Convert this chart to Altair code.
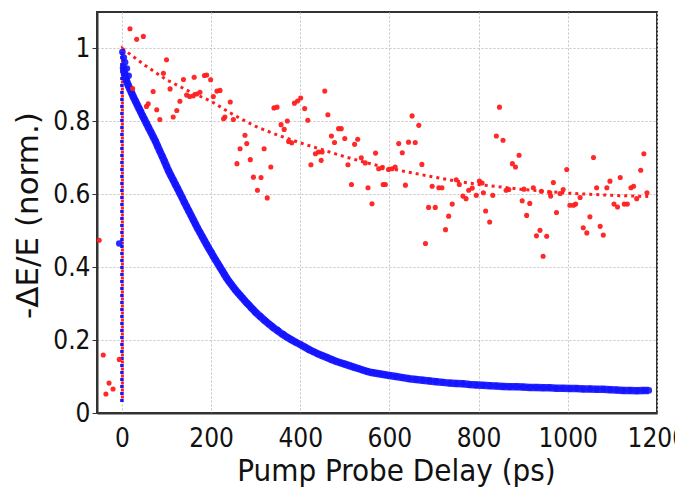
import altair as alt
import pandas as pd

# ---- red data (noisy) ----
red_t = [-51, -42, -36, -29, -20, -6,
         18, 24, 33, 48, 55, 59, 70, 78, 85, 93, 100, 108, 115, 123, 130, 138, 145, 152, 160, 162,
         168, 175, 185, 190, 199, 205, 213, 220, 228, 231, 243, 250, 258, 265, 276, 280, 288, 295,
         304, 312, 319, 326, 334, 341, 348, 357, 364, 371, 374, 381, 387, 394, 401, 410, 417, 424,
         434, 441, 447, 449, 455, 462, 470, 477, 486, 492, 500, 507, 515, 522, 529, 537, 546, 552,
         561, 569, 576, 584, 586, 591, 598, 606, 613, 621, 629, 636, 643, 651, 658, 666, 673, 681,
         688, 696, 703, 711, 718, 726, 733, 741, 750, 757, 765, 772, 778, 786, 795, 802, 808, 811,
         816, 825, 832, 840, 847, 855, 862, 868, 876, 883, 891, 898, 902, 908, 915, 923, 930, 938,
         941, 945, 953, 960, 962, 968, 975, 983, 990, 998, 1005, 1013, 1018, 1028, 1035, 1043, 1050,
         1058, 1065, 1073, 1080, 1088, 1095, 1104, 1112, 1118, 1127, 1134, 1142, 1148, 1155, 1164,
         1171, 1178]
red_y = [0.474, 0.159, 0.052, 0.082, 0.066, 0.147,
         1.054, 0.890, 1.025, 1.033, 0.841, 0.848, 0.882, 0.832, 0.805, 0.932, 0.969, 0.889, 0.812,
         0.830, 0.855, 0.915, 0.872, 0.868, 0.870, 0.921,
         0.875, 0.880, 0.926, 0.927, 0.914, 0.868, 0.883, 0.885, 0.807, 0.812, 0.853, 0.805, 0.684,
         0.725, 0.762, 0.739, 0.695, 0.647,
         0.611, 0.646, 0.725, 0.590, 0.675, 0.837, 0.839, 0.791, 0.778, 0.801, 0.745, 0.741, 0.850,
         0.856, 0.864, 0.835, 0.803, 0.681,
         0.711, 0.716, 0.693, 0.716, 0.883, 0.818, 0.760, 0.742, 0.780, 0.780, 0.753, 0.681, 0.627,
         0.737, 0.751, 0.700, 0.686, 0.618,
         0.574, 0.713, 0.670, 0.673, 0.627, 0.627, 0.668, 0.670, 0.675, 0.739, 0.714, 0.625, 0.743,
         0.815, 0.742, 0.789, 0.682, 0.465,
         0.564, 0.622, 0.564, 0.618, 0.618, 0.503, 0.540, 0.573, 0.640, 0.627, 0.595, 0.588, 0.611,
         0.617, 0.597, 0.636, 0.631, 0.604,
         0.554, 0.524, 0.597, 0.760, 0.839, 0.748, 0.611, 0.613, 0.684, 0.675, 0.707, 0.582, 0.614,
         0.542, 0.575, 0.618, 0.486, 0.501,
         0.608, 0.430, 0.485, 0.604, 0.595, 0.632, 0.550, 0.602, 0.613, 0.668, 0.570, 0.570, 0.573,
         0.591, 0.508, 0.494, 0.538,
         0.701, 0.618, 0.512, 0.488, 0.618, 0.636, 0.573, 0.565, 0.646, 0.573, 0.573, 0.618, 0.622,
         0.588, 0.666,
         0.711, 0.604]

# ---- red fit (dotted) ----
red_fit_t = [1, 1, 50, 100, 150, 200, 250, 300, 350, 400, 450, 500, 550, 600, 650, 700, 750, 800,
             850, 900, 950, 1000, 1050, 1100, 1150, 1185]
red_fit_y = [0.03, 1.0, 0.955, 0.914, 0.883, 0.855, 0.818, 0.786, 0.762, 0.741, 0.722, 0.703, 0.686,
             0.671, 0.659, 0.647, 0.636, 0.627, 0.620, 0.613, 0.608, 0.603, 0.600, 0.597, 0.595, 0.594]

# ---- blue data (dense) ----
blue_t = [-6, 1, 4, 7, 11, 15,
          3, 6, 10, 14, 18, 22, 26, 30, 34, 38, 42, 46, 50, 55, 60, 65, 70, 75, 80, 85, 90, 95, 100,
          105, 110, 115, 120, 125, 130, 135, 140, 145, 150, 155, 160, 165, 170, 175, 180, 185, 190,
          195, 200, 205, 210, 215, 220, 225, 230, 235, 240, 245, 250, 255, 260, 265, 270, 275, 280,
          285, 290, 295, 300, 310, 320, 330, 340, 350, 360, 370, 380, 390, 400, 410, 420, 430, 440,
          450, 460, 470, 480, 490, 500, 510, 520, 530, 540, 550, 560, 570, 580, 590, 600, 615, 630,
          645, 660, 675, 690, 705, 720, 735, 750, 765, 780, 795, 810, 825, 840, 855, 870, 885, 900,
          915, 930, 945, 960, 975, 990, 1005, 1020, 1035, 1050, 1065, 1080, 1095, 1110, 1125, 1140,
          1155, 1170, 1182]
blue_y = [0.465, 0.990, 0.975, 0.962, 0.945, 0.925,
          0.950, 0.930, 0.912, 0.899, 0.888, 0.877, 0.866, 0.856, 0.846, 0.836, 0.826, 0.816, 0.806,
          0.794, 0.782, 0.770, 0.758, 0.746, 0.732, 0.718, 0.705, 0.691, 0.677,
          0.663, 0.651, 0.639, 0.627, 0.615, 0.603, 0.591, 0.578, 0.566, 0.554, 0.542, 0.530, 0.518,
          0.506, 0.495, 0.484, 0.473, 0.462,
          0.451, 0.441, 0.430, 0.420, 0.410, 0.400, 0.390, 0.380, 0.370, 0.361, 0.353, 0.345, 0.337,
          0.330, 0.323, 0.316, 0.309, 0.302,
          0.296, 0.289, 0.283, 0.276, 0.265, 0.254, 0.244, 0.234, 0.225, 0.216, 0.208, 0.201, 0.194,
          0.188, 0.181, 0.174, 0.168, 0.162,
          0.157, 0.152, 0.147, 0.142, 0.138, 0.134, 0.130, 0.126, 0.122, 0.118, 0.114, 0.111, 0.109,
          0.107, 0.105, 0.103, 0.100, 0.097,
          0.094, 0.092, 0.090, 0.088, 0.086, 0.084, 0.082, 0.081, 0.080, 0.078, 0.077, 0.076, 0.075,
          0.074, 0.073, 0.072, 0.072, 0.071,
          0.070, 0.070, 0.069, 0.069, 0.068, 0.068, 0.067, 0.067, 0.066, 0.066, 0.065, 0.065, 0.064,
          0.063, 0.062, 0.062,
          0.061, 0.062, 0.062]

# ---- blue fit (dotted) ----
blue_fit_t = [0, 0, 10, 50, 100, 150, 200, 250, 300, 400, 500, 600, 800, 1000, 1182]
blue_fit_y = [0.03, 0.99, 0.912, 0.806, 0.677, 0.554, 0.441, 0.345, 0.276, 0.188, 0.134, 0.103, 0.077,
              0.067, 0.062]

x_ticks = [0, 200, 400, 600, 800, 1000, 1200]
y_ticks = [0, 0.2, 0.4, 0.6, 0.8, 1.0]

RED = "#ff1e1e"
BLUE = "#1414ff"

red_df = pd.DataFrame({"t": red_t, "y": red_y})
blue_df = pd.DataFrame({"t": blue_t, "y": blue_y})
band_df = pd.DataFrame({"t": blue_t[6:], "y": blue_y[6:]})
rfit_df = pd.DataFrame({"t": red_fit_t, "y": red_fit_y, "i": list(range(len(red_fit_t)))})
bfit_df = pd.DataFrame({"t": blue_fit_t, "y": blue_fit_y, "i": list(range(len(blue_fit_t)))})

xs = alt.Scale(domain=[-56, 1200.5], nice=False, zero=False)
ys = alt.Scale(domain=[0, 1.1], nice=False, zero=False)

LABEL_FONT = "DejaVu Sans Condensed"

x_axis = alt.Axis(values=x_ticks, format="d", title="Pump Probe Delay (ps)",
                  labelFont=LABEL_FONT, labelFontSize=26, labelColor="#111",
                  ticks=False, labelPadding=12,
                  grid=True, gridDash=[2, 2], gridColor="#c4c4c4", gridWidth=1,
                  domainColor="#333", domainWidth=2,
                  titleFont=LABEL_FONT, titleFontSize=31, titleFontWeight="normal",
                  titleColor="#111", titleX=299, titleY=67, titleBaseline="alphabetic",
                  titleAlign="center", labelFlush=False, labelOverlap=False)
y_axis = alt.Axis(values=y_ticks, format="~g", title="-ΔE/E (norm.)",
                  labelFont=LABEL_FONT, labelFontSize=26, labelColor="#111",
                  ticks=True, tickSize=5, tickColor="#333", labelPadding=2,
                  grid=True, gridDash=[2, 2], gridColor="#c4c4c4", gridWidth=1,
                  domainColor="#333", domainWidth=2,
                  titleFont="DejaVu Sans", titleFontSize=31, titleFontWeight="normal",
                  titleColor="#111", titleX=-69, titleY=203, titleAngle=270,
                  titleBaseline="middle", titleAlign="center", labelFlush=False)

X = alt.X("t:Q", scale=xs, axis=x_axis)
Y = alt.Y("y:Q", scale=ys, axis=y_axis)

bfit = alt.Chart(bfit_df).mark_line(color=BLUE, strokeWidth=3.5, strokeDash=[3, 4]).encode(
    x=X, y=Y, order="i:Q")
rfit = alt.Chart(rfit_df).mark_line(color=RED, strokeWidth=3, strokeDash=[3, 4],
                                    strokeDashOffset=3.5).encode(x=X, y=Y, order="i:Q")
band = alt.Chart(band_df).mark_line(color=BLUE, strokeWidth=7.5, opacity=0.9).encode(x=X, y=Y)
bpts = alt.Chart(blue_df).mark_circle(color=BLUE, size=44, opacity=0.9).encode(x=X, y=Y)
rpts = alt.Chart(red_df).mark_circle(color=RED, size=26, opacity=0.95).encode(x=X, y=Y)

chart = alt.layer(bfit, rfit, band, bpts, rpts).properties(
    width=560, height=401,
    autosize=alt.AutoSizeParams(type="none"),
    padding={"left": 89, "top": 4, "right": 18, "bottom": 75},
    background="white",
).configure_view(stroke="#333", strokeWidth=2)

chart.save("out.html", embed_options={"renderer": "svg", "actions": False})
